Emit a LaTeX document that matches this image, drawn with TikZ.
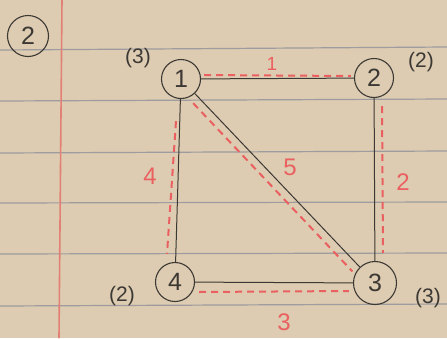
\documentclass[tikz,border=0pt]{standalone}
\usepackage{fontspec}
\setmainfont{Liberation Sans}
\definecolor{paper}{RGB}{221,204,177}
\definecolor{ruling}{RGB}{158,156,158}
\definecolor{margin}{RGB}{226,128,118}
\definecolor{redink}{RGB}{234,96,96}
\definecolor{pen}{RGB}{60,56,52}
\usepackage{tikz}
\usetikzlibrary{
  calc
}
\tikzset{
  vertex/.style={draw=pen, circle, line width=1.1pt, minimum size=39pt,
                 inner sep=0pt, text=pen, font=\fontsize{25}{27}\selectfont},
  edge/.style={draw=pen, line width=1pt},
  spanedge/.style={draw=redink, line width=2pt, dash pattern=on 7pt off 5pt},
  weight/.style={text=redink, font=\fontsize{24}{26}\selectfont},
  degree/.style={text=pen, font=\fontsize{21}{23}\selectfont}
}

\begin{document}
\begin{tikzpicture}[x=1pt, y=-1pt]
\fill[paper] (0,0) rectangle (447,338);
\useasboundingbox (0,0) rectangle (447,338);
\foreach \ya/\yb in {50/47, 101/99, 153/151, 203/202, 254/253, 306/304}
  \draw[ruling, line width=1.2pt] (0,\ya) -- (447,\yb);
\draw[margin, line width=1.6pt] (62,0) -- (59,338);

\node[vertex, minimum size=41pt] (prob) at (28,36) {2};

\node[vertex] (n1) at (181,79) {1};
\node[vertex] (n2) at (374,78) {2};
\node[vertex, minimum size=43pt] (n3) at (375,283) {3};
\node[vertex] (n4) at (175,282) {4};

\node[degree] (d1) at (138,58) {(3)};
\node[degree] (d2) at (421,62) {(2)};
\node[degree] (d3) at (428,298) {(3)};
\node[degree] (d4) at (122,296) {(2)};

\draw[edge] (n1) -- (n2);
\draw[edge] (n2) -- (n3);
\draw[edge] (n1) -- (n3);
\draw[edge] (n1) -- (n4);
\draw[edge] (n4) -- (n3);

\draw[spanedge] ($(n1.east)+(3,-4)$) -- ($(n2.west)+(-3,-2)$);
\draw[spanedge] ($(n2.south)+(8,8)$) -- ($(n3.north)+(8,-8)$);
\draw[spanedge] ($(n1.south east)+(-2,10)$) -- ($(n3.north west)+(-7,4)$);
\draw[spanedge] ($(n1.south)+(-5,22)$) -- ($(n4.north)+(-8,-8)$);
\draw[spanedge] ($(n4.east)+(4,10)$) -- ($(n3.west)+(-4,8)$);

\node[weight, font=\fontsize{19}{21}\selectfont] (w12) at (272,64) {1};
\node[weight] (w23) at (403,182) {2};
\node[weight] (w34) at (284,322) {3};
\node[weight] (w14) at (150,176) {4};
\node[weight] (w13) at (290,167) {5};
\end{tikzpicture}
\end{document}
